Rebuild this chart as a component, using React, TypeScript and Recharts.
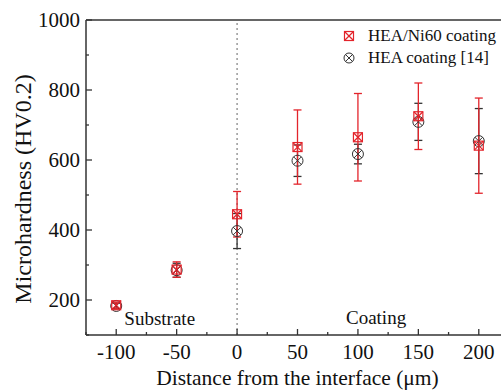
import { ErrorBar, Legend, ReferenceDot, ReferenceLine, Scatter, ScatterChart, XAxis, YAxis } from "recharts";

const distances = [-100, -50, 0, 50, 100, 150, 200];
const ni60Hardness = [185, 287, 445, 637, 665, 725, 641];
const ni60Error = [9, 22, 65, 106, 125, 95, 136];
const heaHardness = [183, 285, 397, 598, 617, 709, 654];
const heaError = [8, 20, 50, 45, 28, 53, 93];

const xTicks = [-125, -100, -75, -50, -25, 0, 25, 50, 75, 100, 125, 150, 175, 200, 225];
const yTicks = [100, 200, 300, 400, 500, 600, 700, 800, 900, 1000];

const RED = "#e3242b";
const DARK = "#333";
const FONT = "'Liberation Serif', 'Times New Roman', serif";

const ni60Data = distances.map((d, i) => ({ x: d, y: ni60Hardness[i], err: ni60Error[i] }));
const heaData = distances.map((d, i) => ({ x: d, y: heaHardness[i], err: heaError[i] }));

const SquareX = ({ cx, cy, side = 9 }: any) => {
  const h = side / 2;
  return (
    <g stroke={RED} strokeWidth={1.2} fill="none">
      <rect x={cx - h} y={cy - h} width={side} height={side} />
      <line x1={cx - h} y1={cy - h} x2={cx + h} y2={cy + h} />
      <line x1={cx - h} y1={cy + h} x2={cx + h} y2={cy - h} />
    </g>
  );
};

const CircleX = ({ cx, cy, rad = 5.5 }: any) => {
  const d = rad * 0.72;
  return (
    <g stroke={DARK} strokeWidth={1} fill="none">
      <circle cx={cx} cy={cy} r={rad} />
      <line x1={cx - d} y1={cy - d} x2={cx + d} y2={cy + d} />
      <line x1={cx - d} y1={cy + d} x2={cx + d} y2={cy - d} />
    </g>
  );
};

const XTick = ({ x, y, payload }: any) => {
  const major = payload.value % 50 === 0;
  return (
    <g>
      <line x1={x} x2={x} y1={y} y2={y - (major ? 6 : 3)} stroke={DARK} strokeWidth={1.3} />
      {major && (
        <text x={x} y={y + 24} textAnchor="middle" fontSize={21} fontFamily={FONT} fill="#111">
          {payload.value}
        </text>
      )}
    </g>
  );
};

const YTick = ({ x, y, payload }: any) => {
  const major = payload.value % 200 === 0;
  return (
    <g>
      <line x1={x} x2={x + (major ? 6 : 3)} y1={y} y2={y} stroke={DARK} strokeWidth={1.3} />
      {major && (
        <text x={x - 6} y={y + 7} textAnchor="end" fontSize={21} fontFamily={FONT} fill="#111">
          {payload.value}
        </text>
      )}
    </g>
  );
};

const LegendBox = () => (
  <div style={{ fontFamily: FONT, fontSize: 17, lineHeight: "22px", color: "#111", whiteSpace: "nowrap" }}>
    <div style={{ display: "flex", alignItems: "center" }}>
      <svg width={12} height={12} style={{ marginRight: 13 }}>
        <SquareX cx={6} cy={6} side={9} />
      </svg>
      HEA/Ni60 coating
    </div>
    <div style={{ display: "flex", alignItems: "center" }}>
      <svg width={12} height={12} style={{ marginRight: 13 }}>
        <CircleX cx={6} cy={6} rad={5} />
      </svg>
      HEA coating [14]
    </div>
  </div>
);

export default function App() {
  return (
    <div style={{ width: 501, height: 391, overflow: "hidden" }}>
      <style>{"html, body { margin: 0; overflow: hidden; }"}</style>
      <ScatterChart width={518} height={391} margin={{ top: 20, right: 9, bottom: 0, left: 0 }}>
        <XAxis
          type="number"
          dataKey="x"
          domain={[-125, 225]}
          ticks={xTicks}
          allowDataOverflow
          interval={0}
          tickSize={0}
          tickMargin={0}
          tickLine={false}
          tick={<XTick />}
          height={56}
          axisLine={{ stroke: DARK, strokeWidth: 1.5 }}
          label={{
            content: ({ viewBox }: any) => (
              <text x={viewBox.x + viewBox.width / 2} y={385} textAnchor="middle" fontSize={21.5} fontFamily={FONT} fill="#111">
                Distance from the interface (μm)
              </text>
            ),
          }}
        />
        <YAxis
          type="number"
          dataKey="y"
          domain={[100, 1000]}
          ticks={yTicks}
          allowDataOverflow
          interval={0}
          tickSize={0}
          tickMargin={0}
          tickLine={false}
          tick={<YTick />}
          width={86}
          axisLine={{ stroke: DARK, strokeWidth: 1.5 }}
          label={{
            content: () => (
              <text
                x={23}
                y={189}
                transform="rotate(-90 23 189)"
                textAnchor="middle"
                dominantBaseline="central"
                fontSize={24}
                fontFamily={FONT}
                fill="#111"
              >
                Microhardness (HV0.2)
              </text>
            ),
          }}
        />
        <ReferenceLine y={1000} stroke={DARK} strokeWidth={1.5} />
        <ReferenceLine x={0} stroke="#666" strokeDasharray="2 3" strokeWidth={1} />
        <ReferenceDot
          x={-64}
          y={149}
          r={0}
          stroke="none"
          fill="none"
          label={{ value: "Substrate", position: "center", fontSize: 19, fontFamily: FONT, fill: "#111" }}
        />
        <ReferenceDot
          x={115}
          y={150}
          r={0}
          stroke="none"
          fill="none"
          label={{ value: "Coating", position: "center", fontSize: 19, fontFamily: FONT, fill: "#111" }}
        />
        <Scatter
          name="HEA coating [14]"
          data={heaData}
          shape={(p: any) => <CircleX cx={p.cx} cy={p.cy} />}
          isAnimationActive={false}
        >
          <ErrorBar dataKey="err" direction="y" width={4} stroke={DARK} strokeWidth={1.3} />
        </Scatter>
        <Scatter
          name="HEA/Ni60 coating"
          data={ni60Data}
          shape={(p: any) => <SquareX cx={p.cx} cy={p.cy} />}
          isAnimationActive={false}
        >
          <ErrorBar dataKey="err" direction="y" width={4} stroke={RED} strokeWidth={1.3} />
        </Scatter>
        <Legend
          layout="vertical"
          align="center"
          verticalAlign="middle"
          wrapperStyle={{ left: 343, top: 25, width: "auto" }}
          content={() => <LegendBox />}
        />
      </ScatterChart>
    </div>
  );
}
